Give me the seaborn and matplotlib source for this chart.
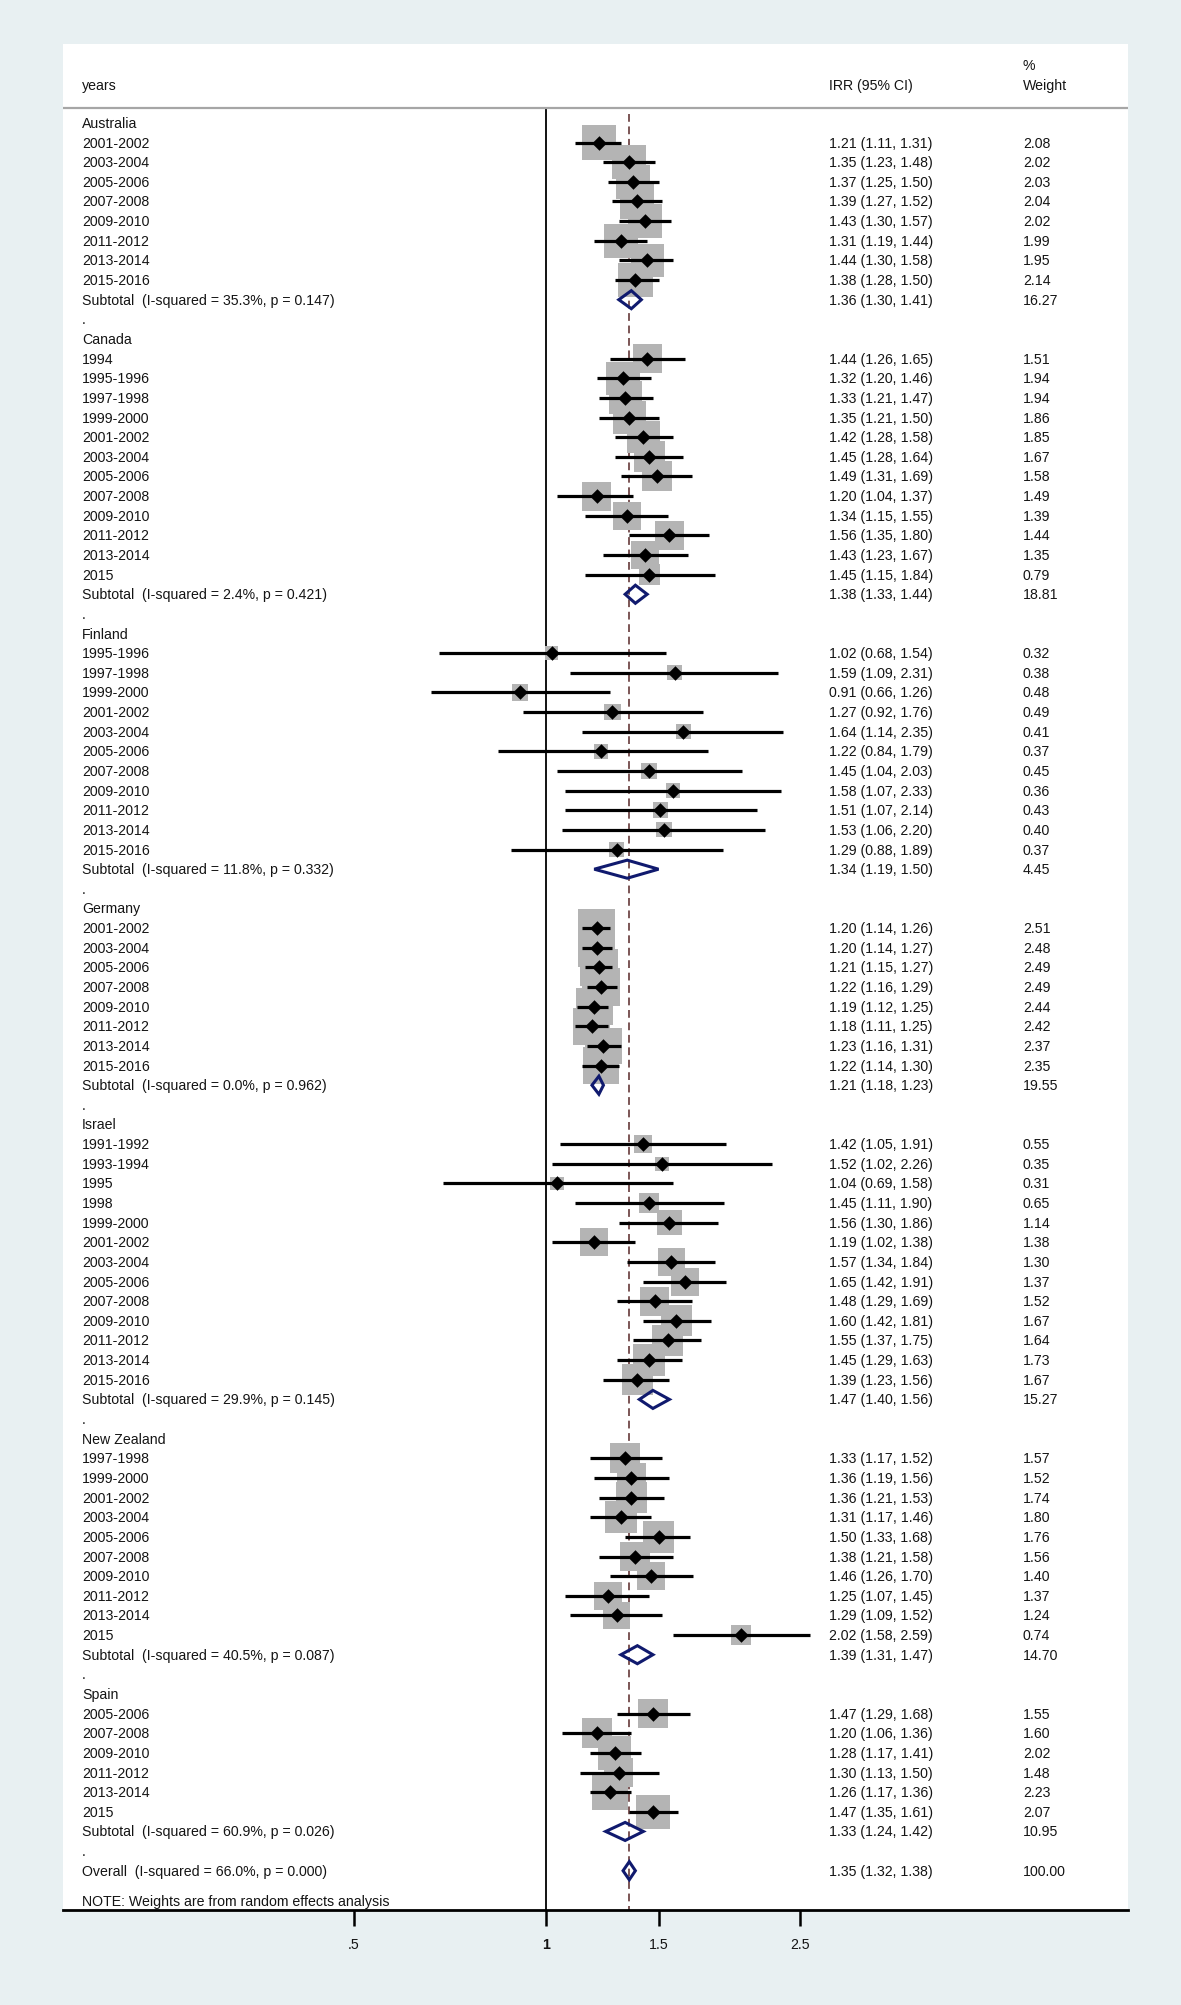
import numpy as np
import pandas as pd
import matplotlib
matplotlib.use("Agg")
import matplotlib.pyplot as plt
import seaborn as sns

# ---- data ----
countries = ["Australia", "Canada", "Finland", "Germany", "Israel", "New Zealand", "Spain"]

australia_years = ["2001-2002", "2003-2004", "2005-2006", "2007-2008", "2009-2010", "2011-2012", "2013-2014", "2015-2016"]
australia_irr = [1.21, 1.35, 1.37, 1.39, 1.43, 1.31, 1.44, 1.38]
australia_lo = [1.11, 1.23, 1.25, 1.27, 1.30, 1.19, 1.30, 1.28]
australia_hi = [1.31, 1.48, 1.50, 1.52, 1.57, 1.44, 1.58, 1.50]
australia_wt = [2.08, 2.02, 2.03, 2.04, 2.02, 1.99, 1.95, 2.14]

canada_years = ["1994", "1995-1996", "1997-1998", "1999-2000", "2001-2002", "2003-2004", "2005-2006", "2007-2008", "2009-2010", "2011-2012", "2013-2014", "2015"]
canada_irr = [1.44, 1.32, 1.33, 1.35, 1.42, 1.45, 1.49, 1.20, 1.34, 1.56, 1.43, 1.45]
canada_lo = [1.26, 1.20, 1.21, 1.21, 1.28, 1.28, 1.31, 1.04, 1.15, 1.35, 1.23, 1.15]
canada_hi = [1.65, 1.46, 1.47, 1.50, 1.58, 1.64, 1.69, 1.37, 1.55, 1.80, 1.67, 1.84]
canada_wt = [1.51, 1.94, 1.94, 1.86, 1.85, 1.67, 1.58, 1.49, 1.39, 1.44, 1.35, 0.79]

finland_years = ["1995-1996", "1997-1998", "1999-2000", "2001-2002", "2003-2004", "2005-2006", "2007-2008", "2009-2010", "2011-2012", "2013-2014", "2015-2016"]
finland_irr = [1.02, 1.59, 0.91, 1.27, 1.64, 1.22, 1.45, 1.58, 1.51, 1.53, 1.29]
finland_lo = [0.68, 1.09, 0.66, 0.92, 1.14, 0.84, 1.04, 1.07, 1.07, 1.06, 0.88]
finland_hi = [1.54, 2.31, 1.26, 1.76, 2.35, 1.79, 2.03, 2.33, 2.14, 2.20, 1.89]
finland_wt = [0.32, 0.38, 0.48, 0.49, 0.41, 0.37, 0.45, 0.36, 0.43, 0.40, 0.37]

germany_years = ["2001-2002", "2003-2004", "2005-2006", "2007-2008", "2009-2010", "2011-2012", "2013-2014", "2015-2016"]
germany_irr = [1.20, 1.20, 1.21, 1.22, 1.19, 1.18, 1.23, 1.22]
germany_lo = [1.14, 1.14, 1.15, 1.16, 1.12, 1.11, 1.16, 1.14]
germany_hi = [1.26, 1.27, 1.27, 1.29, 1.25, 1.25, 1.31, 1.30]
germany_wt = [2.51, 2.48, 2.49, 2.49, 2.44, 2.42, 2.37, 2.35]

israel_years = ["1991-1992", "1993-1994", "1995", "1998", "1999-2000", "2001-2002", "2003-2004", "2005-2006", "2007-2008", "2009-2010", "2011-2012", "2013-2014", "2015-2016"]
israel_irr = [1.42, 1.52, 1.04, 1.45, 1.56, 1.19, 1.57, 1.65, 1.48, 1.60, 1.55, 1.45, 1.39]
israel_lo = [1.05, 1.02, 0.69, 1.11, 1.30, 1.02, 1.34, 1.42, 1.29, 1.42, 1.37, 1.29, 1.23]
israel_hi = [1.91, 2.26, 1.58, 1.90, 1.86, 1.38, 1.84, 1.91, 1.69, 1.81, 1.75, 1.63, 1.56]
israel_wt = [0.55, 0.35, 0.31, 0.65, 1.14, 1.38, 1.30, 1.37, 1.52, 1.67, 1.64, 1.73, 1.67]

nz_years = ["1997-1998", "1999-2000", "2001-2002", "2003-2004", "2005-2006", "2007-2008", "2009-2010", "2011-2012", "2013-2014", "2015"]
nz_irr = [1.33, 1.36, 1.36, 1.31, 1.50, 1.38, 1.46, 1.25, 1.29, 2.02]
nz_lo = [1.17, 1.19, 1.21, 1.17, 1.33, 1.21, 1.26, 1.07, 1.09, 1.58]
nz_hi = [1.52, 1.56, 1.53, 1.46, 1.68, 1.58, 1.70, 1.45, 1.52, 2.59]
nz_wt = [1.57, 1.52, 1.74, 1.80, 1.76, 1.56, 1.40, 1.37, 1.24, 0.74]

spain_years = ["2005-2006", "2007-2008", "2009-2010", "2011-2012", "2013-2014", "2015"]
spain_irr = [1.47, 1.20, 1.28, 1.30, 1.26, 1.47]
spain_lo = [1.29, 1.06, 1.17, 1.13, 1.17, 1.35]
spain_hi = [1.68, 1.36, 1.41, 1.50, 1.36, 1.61]
spain_wt = [1.55, 1.60, 2.02, 1.48, 2.23, 2.07]

subtotal_i2 = [35.3, 2.4, 11.8, 0.0, 29.9, 40.5, 60.9]
subtotal_p = [0.147, 0.421, 0.332, 0.962, 0.145, 0.087, 0.026]
subtotal_irr = [1.36, 1.38, 1.34, 1.21, 1.47, 1.39, 1.33]
subtotal_lo = [1.30, 1.33, 1.19, 1.18, 1.40, 1.31, 1.24]
subtotal_hi = [1.41, 1.44, 1.50, 1.23, 1.56, 1.47, 1.42]
subtotal_wt = [16.27, 18.81, 4.45, 19.55, 15.27, 14.70, 10.95]

overall_i2, overall_p = 66.0, 0.000
overall_irr, overall_lo, overall_hi, overall_wt = 1.35, 1.32, 1.38, 100.00

x_ticks = [0.5, 1, 1.5, 2.5]
x_ticklabels = [".5", "1", "1.5", "2.5"]

groups = [
    (australia_years, australia_irr, australia_lo, australia_hi, australia_wt),
    (canada_years, canada_irr, canada_lo, canada_hi, canada_wt),
    (finland_years, finland_irr, finland_lo, finland_hi, finland_wt),
    (germany_years, germany_irr, germany_lo, germany_hi, germany_wt),
    (israel_years, israel_irr, israel_lo, israel_hi, israel_wt),
    (nz_years, nz_irr, nz_lo, nz_hi, nz_wt),
    (spain_years, spain_irr, spain_lo, spain_hi, spain_wt),
]

# Build row layout (one row per line of text, top to bottom)
studies = []
text_rows = []
diamonds = []
r = 0
for i, country in enumerate(countries):
    text_rows.append((r, country, "", ""))
    r += 1
    for yr, v, lo, hi, w in zip(*groups[i]):
        studies.append({"row": r, "irr": v, "lo": lo, "hi": hi, "wt": w})
        text_rows.append((r, yr, f"{v:.2f} ({lo:.2f}, {hi:.2f})", f"{w:.2f}"))
        r += 1
    text_rows.append((r, f"Subtotal  (I-squared = {subtotal_i2[i]:.1f}%, p = {subtotal_p[i]:.3f})",
                      f"{subtotal_irr[i]:.2f} ({subtotal_lo[i]:.2f}, {subtotal_hi[i]:.2f})",
                      f"{subtotal_wt[i]:.2f}"))
    diamonds.append((r, subtotal_irr[i], subtotal_lo[i], subtotal_hi[i]))
    r += 1
    text_rows.append((r, ".", "", ""))
    r += 1
text_rows.append((r, f"Overall  (I-squared = {overall_i2:.1f}%, p = {overall_p:.3f})",
                  f"{overall_irr:.2f} ({overall_lo:.2f}, {overall_hi:.2f})", f"{overall_wt:.2f}"))
diamonds.append((r, overall_irr, overall_lo, overall_hi))
overall_row = r

df = pd.DataFrame(studies)

# ---- figure ----
sns.set_style("white")
plt.rcParams["font.family"] = ["Liberation Sans", "DejaVu Sans"]

bg = "#e8f0f2"
ink = "#141414"
fig = plt.figure(figsize=(11.81, 20.06), dpi=100, facecolor=bg)
ax = fig.add_axes([63 / 1181, 1 - 1911 / 2006, (1128 - 63) / 1181, (1911 - 45) / 2006])
ax.set_facecolor("white")
ax.set_xscale("log")
ax.set_xlim(0.1754, 8.145)
y_bottom = overall_row + 2.0
ax.set_ylim(y_bottom, -4.02)

# reference lines
ax.plot([1, 1], [-0.76, y_bottom], color="black", lw=1.3, zorder=1)
ax.plot([overall_irr, overall_irr], [-0.45, y_bottom], color="#7b5555", lw=1.4,
        ls=(0, (4, 2.4)), zorder=1)
ax.axhline(-0.76, color="#a6a6a6", lw=1.6, zorder=1)

# weight boxes
wmax = df["wt"].max()
sns.scatterplot(data=df, x="irr", y="row", size="wt", sizes=(0, 295 * wmax),
                size_norm=(0, wmax), marker="s", color="#b4b4b4", linewidth=0,
                legend=False, ax=ax, zorder=2)

# confidence intervals and point estimates
ax.hlines(df["row"], df["lo"], df["hi"], color="black", lw=2.3, zorder=3)
sns.scatterplot(data=df, x="irr", y="row", marker="D", color="black", s=55,
                linewidth=0, legend=False, ax=ax, zorder=4)

# pooled diamonds
h = 0.46
for row, est, lo, hi in diamonds:
    ax.fill([lo, est, hi, est, lo], [row, row - h, row, row + h, row],
            facecolor="none", edgecolor="#101a6e", lw=2.2, zorder=5, joinstyle="miter")

# text columns
tr = ax.get_yaxis_transform()
fs = 10.2
ax.text(0.0178, -1.93, "years", transform=tr, fontsize=fs, color=ink, va="center")
ax.text(0.7192, -1.93, "IRR (95% CI)", transform=tr, fontsize=fs, color=ink, va="center")
ax.text(0.9014, -2.95, "%", transform=tr, fontsize=fs, color=ink, va="center")
ax.text(0.9014, -1.93, "Weight", transform=tr, fontsize=fs, color=ink, va="center")
for row, lab, ci, wt in text_rows:
    ax.text(0.0178, row, lab, transform=tr, fontsize=fs, color=ink, va="center")
    if ci:
        ax.text(0.7192, row, ci, transform=tr, fontsize=fs, color=ink, va="center")
        ax.text(0.9014, row, wt, transform=tr, fontsize=fs, color=ink, va="center")
ax.text(0.0178, overall_row + 1.54, "NOTE: Weights are from random effects analysis",
        transform=tr, fontsize=fs, color=ink, va="center")

# axis styling
for side in ["top", "left", "right"]:
    ax.spines[side].set_visible(False)
ax.spines["bottom"].set_color("black")
ax.spines["bottom"].set_linewidth(2.0)
ax.set_yticks([])
ax.set_xticks(x_ticks)
ax.set_xticklabels(x_ticklabels)
ax.minorticks_off()
ax.tick_params(axis="x", which="major", bottom=True, direction="out", length=11.5,
               width=1.8, color="black", pad=8, labelsize=10.2, labelcolor=ink)
for t in ax.get_xticklabels():
    if t.get_text() == "1":
        t.set_fontweight("bold")
ax.set_xlabel("")
ax.set_ylabel("")

fig.savefig("out.png", dpi=100, facecolor=fig.get_facecolor())
